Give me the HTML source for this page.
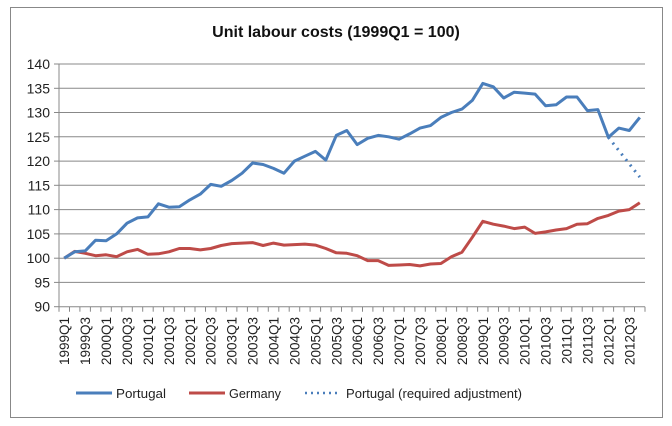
<!DOCTYPE html>
<html><head><meta charset="utf-8"><style>
html,body{margin:0;padding:0;background:#fff;}
svg{display:block;font-family:"Liberation Sans",sans-serif;}
</style></head><body>
<svg id="s" width="672" height="426" xmlns="http://www.w3.org/2000/svg">
<rect x="10.5" y="7.5" width="652" height="410" fill="#fff" stroke="#888" stroke-width="1"/>
<text x="336" y="37" text-anchor="middle" font-size="16" font-weight="bold" fill="#111">Unit labour costs (1999Q1 = 100)</text>
<g id="g"></g>
<g font-size="13" fill="#222">
<line x1="76" y1="393" x2="112" y2="393" stroke="#4a7ebb" stroke-width="3"/>
<text x="116" y="398" textLength="50" lengthAdjust="spacingAndGlyphs">Portugal</text>
<line x1="189" y1="393" x2="225" y2="393" stroke="#be4b48" stroke-width="3"/>
<text x="229" y="398" textLength="52" lengthAdjust="spacingAndGlyphs">Germany</text>
<line x1="305" y1="393" x2="339" y2="393" stroke="#4a7ebb" stroke-width="2.5" stroke-dasharray="2,4"/>
<text x="346" y="398" textLength="176" lengthAdjust="spacingAndGlyphs">Portugal (required adjustment)</text>
</g>
</svg>
<script>
var P=[100,101.3,101.5,103.7,103.6,105,107.2,108.3,108.5,111.2,110.5,110.6,112,113.2,115.2,114.8,116,117.5,119.6,119.3,118.5,117.5,120,121,122,120.2,125.3,126.3,123.4,124.7,125.3,125,124.5,125.6,126.8,127.3,129,130,130.7,132.5,136,135.3,133,134.2,134,133.8,131.4,131.6,133.2,133.2,130.4,130.6,124.9,126.8,126.3,129];
var G=[100,101.4,101,100.5,100.7,100.3,101.3,101.8,100.8,100.9,101.3,102,102,101.7,102,102.6,103,103.1,103.2,102.6,103.1,102.7,102.8,102.9,102.7,102,101.1,101,100.5,99.5,99.5,98.5,98.6,98.7,98.4,98.8,98.9,100.3,101.2,104.3,107.6,107,106.6,106.1,106.4,105.1,105.4,105.8,106.1,107,107.1,108.2,108.8,109.7,110,111.4];
var L=59,R=645,T=64,B=306.7,n=56,w=(R-L)/n;
function X(i){return L+w*(i+.5)}function Y(v){return T+(140-v)*(B-T)/50}
var h='';
for(var v=90;v<=140;v+=5){var y=Y(v).toFixed(1);
 if(v>90)h+='<line x1="'+L+'" y1="'+y+'" x2="'+R+'" y2="'+y+'" stroke="#888" stroke-width="1"/>';
 h+='<line x1="'+(L-5)+'" y1="'+y+'" x2="'+L+'" y2="'+y+'" stroke="#888"/>';
 h+='<text x="'+(L-9)+'" y="'+(+y+5)+'" text-anchor="end" font-size="14" fill="#222">'+v+'</text>';}
h+='<line x1="'+L+'" y1="'+T+'" x2="'+L+'" y2="'+B+'" stroke="#888"/>';
h+='<line x1="'+L+'" y1="'+B+'" x2="'+R+'" y2="'+B+'" stroke="#888"/>';
for(var i=0;i<=n;i++){var x=(L+w*i).toFixed(1);h+='<line x1="'+x+'" y1="'+B+'" x2="'+x+'" y2="'+(B+5)+'" stroke="#888"/>';}
for(var i=0;i<n;i+=2){var yr=1999+Math.floor(i/4),q=i%4+1;var x=X(i)+5;
 h+='<text transform="translate('+x.toFixed(1)+',317) rotate(-90)" text-anchor="end" font-size="13.5" fill="#222">'+yr+'Q'+q+'</text>';}
function pl(a,c){return '<polyline fill="none" stroke="'+c+'" stroke-width="3" stroke-linejoin="round" points="'+a.map(function(v,i){return X(i).toFixed(1)+','+Y(v).toFixed(1)}).join(' ')+'"/>';}
h+=pl(G,'#be4b48')+pl(P,'#4a7ebb');
h+='<line x1="'+X(52)+'" y1="'+Y(124.9)+'" x2="'+X(55)+'" y2="'+Y(116.7)+'" stroke="#4a7ebb" stroke-width="3" stroke-dasharray="2,5"/>';
document.getElementById('g').innerHTML=h;
</script>
</body></html>
